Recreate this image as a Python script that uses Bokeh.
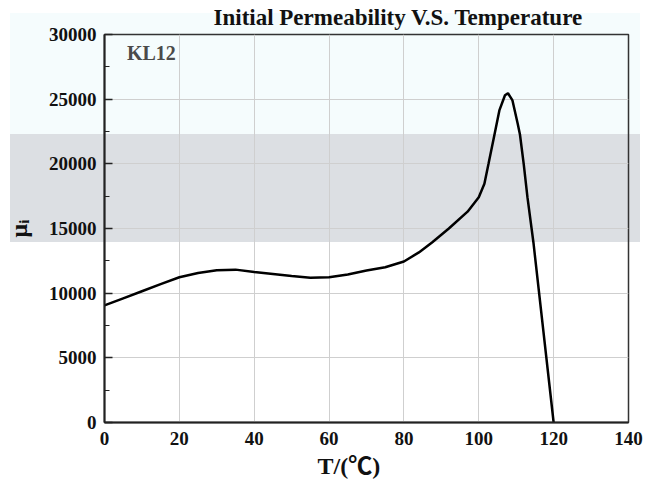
from bokeh.plotting import figure
from bokeh.models import Range1d, FixedTicker, Label, Title
from bokeh.embed import file_html
from bokeh.resources import INLINE

# Temperature (°C) and initial permeability readings
temperature = [0, 5, 10, 15, 20, 25, 30, 35, 40, 45, 50, 55, 60, 65, 70, 75, 80, 84,
               87.5, 92, 97, 100, 101.5, 102.6, 104.2, 105.5, 107, 107.8, 109, 110.4,
               111, 112, 113, 114.6, 120]
permeability = [9050, 9600, 10150, 10700, 11230, 11560, 11780, 11820, 11630, 11480,
                11330, 11200, 11230, 11450, 11750, 12000, 12450, 13150, 13920, 15000,
                16300, 17420, 18460, 20000, 22270, 24130, 25300, 25460, 24900, 23100,
                22270, 20000, 17420, 13920, 0]

x_ticks = [0, 20, 40, 60, 80, 100, 120, 140]
y_ticks = [0, 5000, 10000, 15000, 20000, 25000, 30000]
y_minor = [2500, 7500, 12500, 17500, 22500, 27500]

title_text = "Initial Permeability V.S. Temperature"
x_label = "T/(℃)"
y_label = "μᵢ"
series_tag = "KL12"

SERIF = "Liberation Serif"

p = figure(width=653, height=491, output_backend="svg", toolbar_location=None,
           x_range=Range1d(0, 140), y_range=Range1d(0, 30000),
           min_border_left=104, min_border_right=25, min_border_top=34,
           min_border_bottom=69)

p.title = Title(text=title_text, align="left", vertical_align="top",
                text_font=SERIF, text_font_size="23px", text_font_style="bold",
                text_color="#111111", standoff=6, offset=109)

# x axis title, placed as a below-panel title for exact horizontal position
p.add_layout(Title(text=x_label, align="left", offset=213, standoff=6,
                   text_font="'Liberation Serif', 'Noto Sans CJK SC'",
                   text_font_size="24px", text_font_style="bold",
                   text_color="#111111"), "below")

# page background bands (light cyan strip, grey strip)
p.styles = {
    "background-color": "#ffffff",
    "background-image": ("linear-gradient(to bottom, #ffffff 0px, #ffffff 13px, "
                         "#f5fcfd 13px, #f5fcfd 134px, #dcdfe3 134px, "
                         "#dcdfe3 242px, #ffffff 242px, #ffffff 100%)"),
    "background-repeat": "no-repeat",
    "background-size": "630px 100%",
    "background-position": "10px 0px",
}

p.background_fill_color = None
p.border_fill_color = None
p.outline_line_color = "#333333"
p.outline_line_width = 1.5

p.xaxis.ticker = FixedTicker(ticks=x_ticks)
p.yaxis.ticker = FixedTicker(ticks=y_ticks, minor_ticks=y_minor)

for ax in (p.xaxis, p.yaxis):
    ax.major_label_text_font = SERIF
    ax.major_label_text_font_size = "19px"
    ax.major_label_text_font_style = "bold"
    ax.major_label_text_color = "#111111"
    ax.axis_line_color = "#222222"
    ax.axis_line_width = 2
    ax.axis_label_text_font = SERIF
    ax.axis_label_text_font_style = "bold"
    ax.axis_label_text_color = "#111111"

p.xaxis.major_tick_in = 0
p.xaxis.major_tick_out = 0
p.xaxis.minor_tick_in = 0
p.xaxis.minor_tick_out = 0
p.xaxis.major_label_standoff = 9

p.yaxis.major_tick_in = 8
p.yaxis.major_tick_out = 0
p.yaxis.minor_tick_in = 5
p.yaxis.minor_tick_out = 0
p.yaxis.major_tick_line_width = 1.5
p.yaxis.major_tick_line_color = "#222222"
p.yaxis.minor_tick_line_color = "#222222"
p.yaxis.major_label_standoff = 8
p.yaxis.axis_label = y_label
p.yaxis.axis_label_text_font_size = "24px"
p.yaxis.axis_label_standoff = 14

p.xgrid.grid_line_color = "#cfcfcf"
p.ygrid.grid_line_color = "#cfcfcf"
p.xgrid.grid_line_width = 1
p.ygrid.grid_line_width = 1

p.line(temperature, permeability, line_color="black", line_width=2.5)

p.add_layout(Label(x=6, y=28600, text=series_tag, text_font=SERIF,
                   text_font_size="20px", text_font_style="bold",
                   text_color="#4a4a4a", text_baseline="middle"))

open("out.html", "w").write(file_html(p, INLINE))
